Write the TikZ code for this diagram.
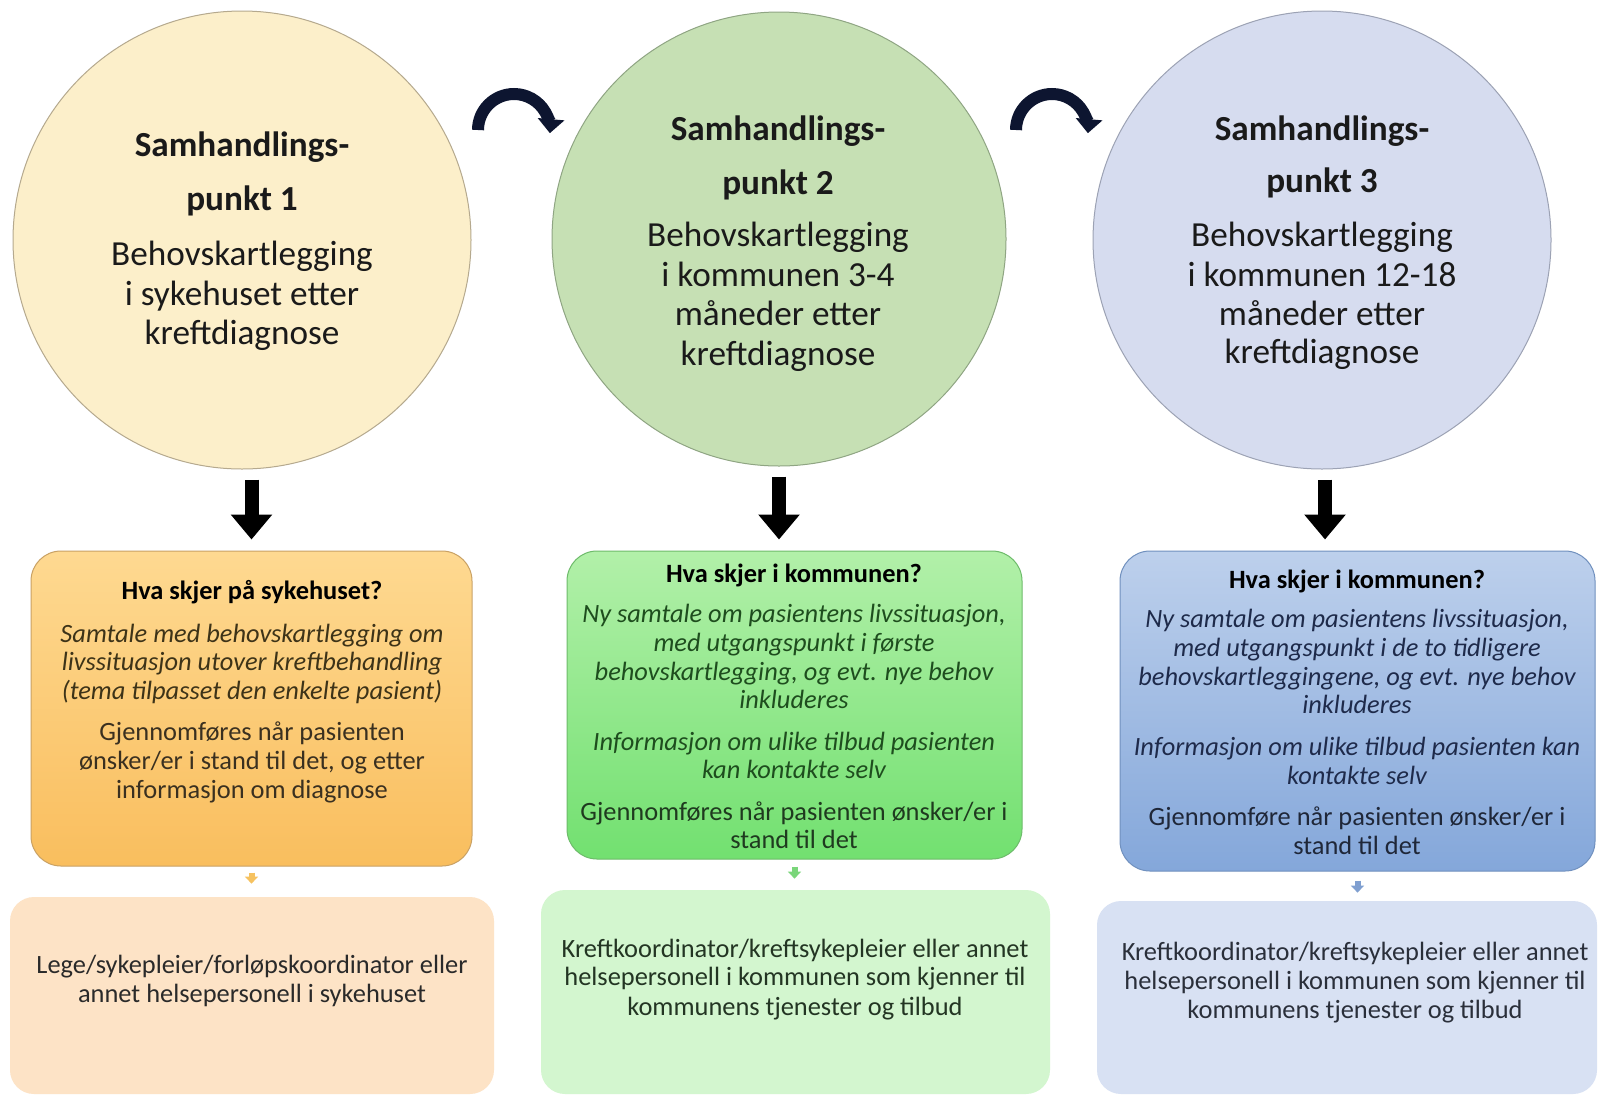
\documentclass[tikz,border=0pt]{standalone}
\usepackage{fontspec}
\setmainfont{Carlito}
\usetikzlibrary{arrows.meta}
\definecolor{circA}{HTML}{FCEFCA}
\definecolor{circB}{HTML}{C6E0B4}
\definecolor{circC}{HTML}{D6DCEF}
\definecolor{edgeA}{HTML}{B5A98E}
\definecolor{edgeB}{HTML}{8FA583}
\definecolor{edgeC}{HTML}{9CA2B4}
\definecolor{boxAtop}{HTML}{FED991}
\definecolor{boxAbot}{HTML}{F9BE5E}
\definecolor{boxAedge}{HTML}{C9A164}
\definecolor{boxBtop}{HTML}{B2F0A9}
\definecolor{boxBbot}{HTML}{72E070}
\definecolor{boxBedge}{HTML}{6DBB6A}
\definecolor{boxCtop}{HTML}{BDD0EC}
\definecolor{boxCbot}{HTML}{84A7DA}
\definecolor{boxCedge}{HTML}{7090BE}
\definecolor{lowA}{HTML}{FDE3C6}
\definecolor{lowB}{HTML}{D3F6CF}
\definecolor{lowC}{HTML}{D8E1F3}
\definecolor{tipA}{HTML}{F6C260}
\definecolor{tipB}{HTML}{7AD67A}
\definecolor{tipC}{HTML}{7F9FD0}
\definecolor{navyarc}{HTML}{0D1530}
\definecolor{ctext}{HTML}{1A1A1A}
\definecolor{itA}{HTML}{3D3318}
\definecolor{itB}{HTML}{1E4D1E}
\definecolor{itC}{HTML}{1E2A4A}
\definecolor{regA}{HTML}{3A3020}
\definecolor{regB}{HTML}{1F3A1F}
\definecolor{regC}{HTML}{1F2738}
\definecolor{lowtxtA}{HTML}{2A2A2A}
\definecolor{lowtxtB}{HTML}{233523}
\definecolor{lowtxtC}{HTML}{2A2F3A}
\begin{document}
\begin{tikzpicture}[x=0.5pt,y=-0.5pt,
  ctitle/.style={anchor=mid,inner sep=0,font=\fontsize{17.6}{19.5}\selectfont\bfseries,text=ctext},
  cbody/.style={anchor=mid,inner sep=0,font=\fontsize{17.6}{19.5}\selectfont,text=ctext},
  bhead/.style={anchor=mid,inner sep=0,font=\fontsize{13.2}{14}\selectfont\bfseries,text=black},
  bital/.style={anchor=mid,inner sep=0,font=\fontsize{13.2}{14}\selectfont\itshape,text=#1},
  breg/.style={anchor=mid,inner sep=0,font=\fontsize{13.2}{14}\selectfont,text=#1},
  disc/.style={circle,inner sep=0,line width=0.5pt},
  topbox/.style={rectangle,rounded corners=15pt,inner sep=0,line width=0.5pt},
  lowbox/.style={rectangle,rounded corners=12pt,inner sep=0},
  bigarrow/.style={line width=7pt,black,-{Triangle[width=20pt,length=12.5pt]},shorten <=5pt,shorten >=5.5pt},
  turnarrow/.style={line width=6pt,draw=navyarc,-{Triangle[width=13pt,length=7pt]}},
  tinyarrow/.style={line width=3pt,draw=#1,-{Triangle[width=6.5pt,length=3.5pt]}}
]
\useasboundingbox (0,0) rectangle (1598,1098);
\fill[white] (0,0) rectangle (1598,1098);

% circles
\node[disc,fill=circA,draw=edgeA,minimum size=229pt] (c1) at (242,240) {};
\node[disc,fill=circB,draw=edgeB,minimum size=227pt] (c2) at (779,239) {};
\node[disc,fill=circC,draw=edgeC,minimum size=229pt] (c3) at (1322,240) {};

% circle texts
\node[ctitle] (c1a) at (242,152) {Samhandlings-};
\node[ctitle] (c1b) at (242,206) {punkt 1};
\node[cbody] (c1c) at (242,261) {Behovskartlegging};
\node[cbody] (c1d) at (242,301) {i sykehuset etter};
\node[cbody] (c1e) at (242,340) {kreftdiagnose};

\node[ctitle] (c2a) at (778,136) {Samhandlings-};
\node[ctitle] (c2b) at (778,190) {punkt 2};
\node[cbody] (c2c) at (778,242) {Behovskartlegging};
\node[cbody] (c2d) at (778,282) {i kommunen 3-4};
\node[cbody] (c2e) at (778,321) {måneder etter};
\node[cbody] (c2f) at (778,361) {kreftdiagnose};

\node[ctitle] (c3a) at (1322,136) {Samhandlings-};
\node[ctitle] (c3b) at (1322,188) {punkt 3};
\node[cbody] (c3c) at (1322,242) {Behovskartlegging};
\node[cbody] (c3d) at (1322,282) {i kommunen 12-18};
\node[cbody] (c3e) at (1322,321) {måneder etter};
\node[cbody] (c3f) at (1322,359) {kreftdiagnose};

% curved arrows between circles
\coordinate (ta1) at (478,130);
\coordinate (ta2) at (1016,130);
\draw[turnarrow] (ta1) arc (180:365:36);
\draw[turnarrow] (ta2) arc (180:365:36);

% upper boxes
\node[topbox,top color=boxAtop,bottom color=boxAbot,draw=boxAedge,minimum width=220.5pt,minimum height=157.5pt] (b1) at (251.5,708.5) {};
\node[topbox,top color=boxBtop,bottom color=boxBbot,draw=boxBedge,minimum width=227.5pt,minimum height=154pt] (b2) at (794.5,705) {};
\node[topbox,top color=boxCtop,bottom color=boxCbot,draw=boxCedge,minimum width=237.5pt,minimum height=160pt] (b3) at (1357.5,711) {};

% lower boxes
\node[lowbox,fill=lowA,minimum width=242pt,minimum height=98.5pt] (l1) at (252,995.5) {};
\node[lowbox,fill=lowB,minimum width=254.5pt,minimum height=102pt] (l2) at (795.5,992) {};
\node[lowbox,fill=lowC,minimum width=250pt,minimum height=96.5pt] (l3) at (1347,997.5) {};

% big down arrows
\draw[bigarrow] (b1.north |- c1.south) -- (b1.north);
\draw[bigarrow] (c2.south) -- (c2.south |- b2.north);
\draw[bigarrow] ([xshift=1.5pt]c3.south) -- ([xshift=1.5pt]c3.south |- b3.north);

% tiny arrows between boxes
\draw[tinyarrow=tipA,shorten <=3pt,shorten >=6.5pt] (b1.south) -- (b1.south |- l1.north);
\draw[tinyarrow=tipB,shorten <=3.5pt,shorten >=5.5pt] (b2.south) -- (b2.south |- l2.north);
\draw[tinyarrow=tipC,shorten <=4.5pt,shorten >=4pt] (b3.south) -- (b3.south |- l3.north);

% box 1 texts
\node[bhead] (t1a) at (252,595) {Hva skjer på sykehuset?};
\node[bital=itA] (t1b) at (252,638) {Samtale med behovskartlegging om};
\node[bital=itA] (t1c) at (252,666) {livssituasjon utover kreftbehandling};
\node[bital=itA] (t1d) at (252,695) {(tema tilpasset den enkelte pasient)};
\node[breg=regA] (t1e) at (252,736) {Gjennomføres når pasienten};
\node[breg=regA] (t1f) at (252,765) {ønsker/er i stand til det, og etter};
\node[breg=regA] (t1g) at (252,794) {informasjon om diagnose};
\node[breg=lowtxtA] (u1a) at (252,969) {Lege/sykepleier/forløpskoordinator eller};
\node[breg=lowtxtA] (u1b) at (252,998) {annet helsepersonell i sykehuset};

% box 2 texts
\node[bhead] (t2a) at (794,578) {Hva skjer i kommunen?};
\node[bital=itB] (t2b) at (794,618) {Ny samtale om pasientens livssituasjon,};
\node[bital=itB] (t2c) at (794,647) {med utgangspunkt i første};
\node[bital=itB] (t2d) at (794,676) {behovskartlegging, og evt. nye behov};
\node[bital=itB] (t2e) at (794,704) {inkluderes};
\node[bital=itB] (t2f) at (794,746) {Informasjon om ulike tilbud pasienten};
\node[bital=itB] (t2g) at (794,774) {kan kontakte selv};
\node[breg=regB] (t2h) at (794,816) {Gjennomføres når pasienten ønsker/er i};
\node[breg=regB] (t2i) at (794,844) {stand til det};
\node[breg=lowtxtB] (u2a) at (795,953) {Kreftkoordinator/kreftsykepleier eller annet};
\node[breg=lowtxtB] (u2b) at (795,981) {helsepersonell i kommunen som kjenner til};
\node[breg=lowtxtB] (u2c) at (795,1011) {kommunens tjenester og tilbud};

% box 3 texts
\node[bhead] (t3a) at (1357,584) {Hva skjer i kommunen?};
\node[bital=itC] (t3b) at (1357,623) {Ny samtale om pasientens livssituasjon,};
\node[bital=itC] (t3c) at (1357,652) {med utgangspunkt i de to tidligere};
\node[bital=itC] (t3d) at (1357,681) {behovskartleggingene, og evt. nye behov};
\node[bital=itC] (t3e) at (1357,709) {inkluderes};
\node[bital=itC] (t3f) at (1357,751) {Informasjon om ulike tilbud pasienten kan};
\node[bital=itC] (t3g) at (1357,780) {kontakte selv};
\node[breg=regC] (t3h) at (1357,821) {Gjennomføre når pasienten ønsker/er i};
\node[breg=regC] (t3i) at (1357,850) {stand til det};
\node[breg=lowtxtC] (u3a) at (1355,956) {Kreftkoordinator/kreftsykepleier eller annet};
\node[breg=lowtxtC] (u3b) at (1355,985) {helsepersonell i kommunen som kjenner til};
\node[breg=lowtxtC] (u3c) at (1355,1014) {kommunens tjenester og tilbud};
\end{tikzpicture}
\end{document}
